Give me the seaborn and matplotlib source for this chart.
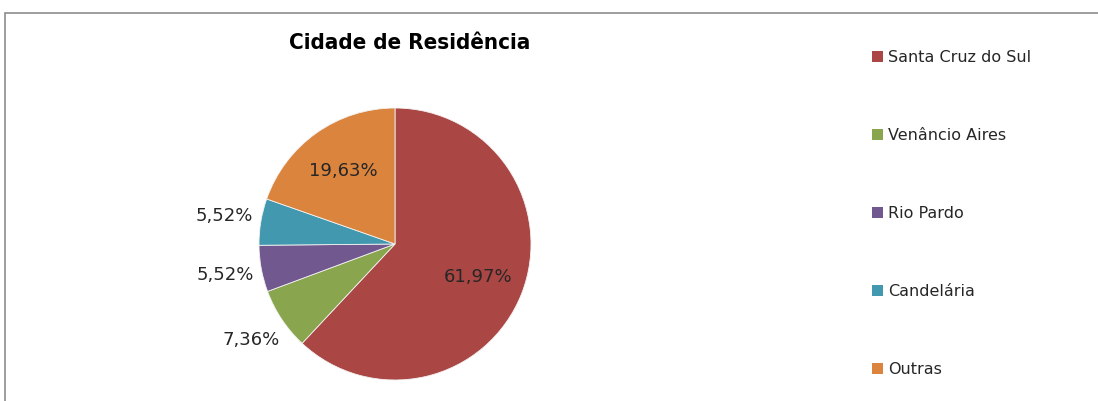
import matplotlib
matplotlib.use("Agg")
import matplotlib.pyplot as plt
import matplotlib.patches as mpatches
import seaborn as sns
import numpy as np

categories = ["Santa Cruz do Sul", "Venâncio Aires", "Rio Pardo", "Candelária", "Outras"]
values = [61.97, 7.36, 5.52, 5.52, 19.63]
labels_pct = ["61,97%", "7,36%", "5,52%", "5,52%", "19,63%"]
colors = ["#AA4643", "#89A54E", "#71588F", "#4198AF", "#DB843D"]
title = "Cidade de Residência"

sns.set_theme(style="white")
plt.rcParams['font.family'] = ['DejaVu Sans']
palette = sns.color_palette(colors)

W, H = 1098, 401
fig = plt.figure(figsize=(W / 100, H / 100), dpi=100)
fig.patch.set_facecolor("white")

# outer chart border (extends past right and bottom edges)
border = mpatches.Rectangle((5 / W, -0.1), 1.2, 1 - 13 / H + 0.1, transform=fig.transFigure,
                            fill=False, edgecolor="#8c8c8c", linewidth=1.2)
fig.patches.append(border)

cx, cy, r = 395, 244, 136
ax = fig.add_axes([(cx - r) / W, (H - cy - r) / H, 2 * r / W, 2 * r / H])
wedges, texts = ax.pie(values, colors=palette, startangle=90, counterclock=False,
                       radius=1.0, wedgeprops=dict(edgecolor="#f2f2f2", linewidth=0.6))
ax.set_xlim(-1, 1)
ax.set_ylim(-1, 1)
ax.set_aspect("equal")
ax.axis("off")

for w, lab, v in zip(wedges, labels_pct, values):
    mid = np.deg2rad((w.theta1 + w.theta2) / 2)
    d = 0.66 if v > 10 else 1.27
    ax.text(d * np.cos(mid), d * np.sin(mid), lab, ha="center", va="center",
            fontsize=13, color="#262626", clip_on=False)

fig.text(410 / W, 1 - 43 / H, title, ha="center", va="center", fontsize=16,
         fontweight="bold", fontstretch="condensed", color="black")

handles = [mpatches.Patch(facecolor=c, edgecolor="none") for c in palette]
leg = fig.legend(handles, categories, loc="upper left", bbox_to_anchor=(872 / W, 1 - 50 / H),
                 frameon=False, fontsize=11.5, labelspacing=3.95, handlelength=0.7,
                 handleheight=0.7, handletextpad=0.3, borderaxespad=0, borderpad=0)

fig.savefig("out.png", dpi=100, facecolor="white")
